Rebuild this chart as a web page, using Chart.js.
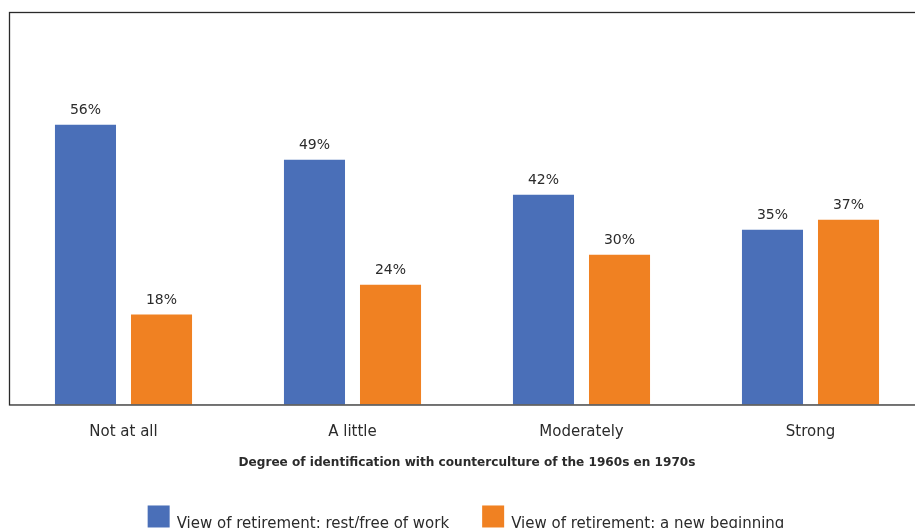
<!DOCTYPE html>
<html>
<head>
<meta charset="utf-8">
<script src="https://cdn.jsdelivr.net/npm/chart.js@4/dist/chart.umd.min.js"></script>
<style>
  html, body { margin: 0; padding: 0; overflow: hidden; background: #fff; }
  #wrap { position: absolute; left: 0; top: 0; width: 930px; height: 545px; }
</style>
</head>
<body>
<div id="wrap"><canvas id="chart"></canvas></div>
<script>
// Share of respondents per view of retirement, by identification with the counterculture
const categories = ['Not at all', 'A little', 'Moderately', 'Strong'];
const restFreeOfWork = [56, 49, 42, 35];
const newBeginning = [18, 24, 30, 37];
const seriesNames = ['View of retirement: rest/free of work', 'View of retirement: a new beginning'];
const axisTitle = 'Degree of identification with counterculture of the 1960s en 1970s';

const FONT = '"DejaVu Sans", Verdana, sans-serif';
const TEXT = '#2b2b2b';
const COLORS = ['#4a6fb8', '#f08122'];

// Frame around the plot area
const framePlugin = {
  id: 'frame',
  afterDraw(chart) {
    const { ctx, chartArea: a } = chart;
    ctx.save();
    ctx.strokeStyle = '#2a2a2a';
    ctx.lineWidth = 1.3;
    ctx.strokeRect(a.left + 0.5, a.top + 0.5, a.right - a.left, a.bottom - a.top);
    ctx.restore();
  }
};

// Percentage labels above each bar
const valueLabels = {
  id: 'valueLabels',
  afterDatasetsDraw(chart) {
    const { ctx } = chart;
    ctx.save();
    ctx.font = '14px ' + FONT;
    ctx.fillStyle = TEXT;
    ctx.textAlign = 'center';
    ctx.textBaseline = 'alphabetic';
    chart.data.datasets.forEach((ds, i) => {
      chart.getDatasetMeta(i).data.forEach((bar, j) => {
        ctx.fillText(ds.data[j] + '%', bar.x, bar.y - 11);
      });
    });
    ctx.restore();
  }
};

// Legend row with square swatches below the axis title
const swatchLegend = {
  id: 'swatchLegend',
  afterDraw(chart) {
    const { ctx, chartArea: a } = chart;
    const box = 22, gap = 7, spacing = 33;
    ctx.save();
    ctx.font = '15px ' + FONT;
    const items = chart.data.datasets.map(ds => ({
      text: ds.label,
      color: ds.backgroundColor,
      w: ctx.measureText(ds.label).width
    }));
    const total = items.reduce((s, it) => s + box + gap + it.w, 0) + spacing * (items.length - 1);
    let x = (a.left + a.right) / 2 - total / 2 - 1;
    const boxTop = a.bottom + 101;
    const baseline = a.bottom + 124;
    ctx.textBaseline = 'alphabetic';
    ctx.textAlign = 'left';
    items.forEach(it => {
      ctx.fillStyle = it.color;
      ctx.fillRect(x, boxTop, box, box);
      ctx.fillStyle = TEXT;
      ctx.fillText(it.text, x + box + gap, baseline);
      x += box + gap + it.w + spacing;
    });
    ctx.restore();
  }
};

new Chart(document.getElementById('chart'), {
  type: 'bar',
  data: {
    labels: categories,
    datasets: [
      { label: seriesNames[0], data: restFreeOfWork, backgroundColor: COLORS[0], borderWidth: 0 },
      { label: seriesNames[1], data: newBeginning, backgroundColor: COLORS[1], borderWidth: 0 }
    ]
  },
  options: {
    responsive: true,
    maintainAspectRatio: false,
    animation: false,
    devicePixelRatio: 1,
    categoryPercentage: 0.664,
    barPercentage: 0.803,
    layout: { padding: { left: 9, right: 5, top: 12, bottom: 75 } },
    plugins: {
      tooltip: { enabled: false },
      legend: { display: false }
    },
    scales: {
      x: {
        grid: { display: false },
        border: { display: false },
        ticks: { color: TEXT, font: { family: FONT, size: 15 }, padding: 11 },
        title: {
          display: true,
          text: axisTitle,
          color: TEXT,
          font: { family: FONT, size: 12.1, weight: 'bold' },
          padding: { top: 3, bottom: 0 }
        }
      },
      y: {
        display: false,
        min: 0,
        max: 78.6
      }
    }
  },
  plugins: [framePlugin, valueLabels, swatchLegend]
});
</script>
</body>
</html>
